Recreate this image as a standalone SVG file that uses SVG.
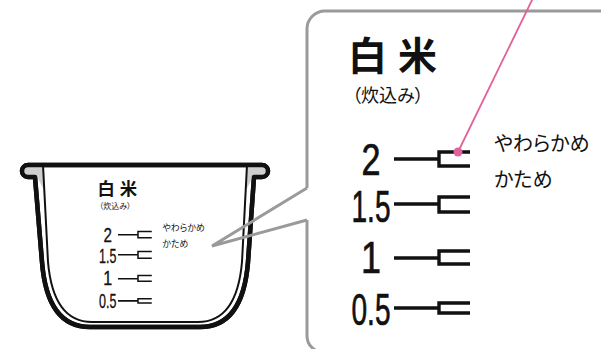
<svg xmlns="http://www.w3.org/2000/svg" width="601" height="349" viewBox="0 0 601 349">
  <style>
    .jp { font-family: "Noto Sans CJK JP", "Noto Sans", sans-serif; fill: #111; }
    .title { font-size: 39px; font-weight: 700; letter-spacing: 11px; }
    .sub { font-size: 18px; font-feature-settings: "palt"; }
    .note { font-size: 20px; font-feature-settings: "palt"; }
    .num { font-family: "Liberation Sans", Arial, sans-serif; font-size: 44px; fill: #111; stroke: #111; stroke-width: 0.7; text-anchor: middle; }
    .tick { fill: none; stroke: #111; stroke-width: 3.4; stroke-linejoin: miter; }
    .panel { fill: none; stroke: #9a9a9a; stroke-width: 3; }
    .pot-out { fill: #fff; stroke: #111; stroke-width: 4.5; stroke-linejoin: round; }
    .pot-line { fill: none; stroke: #111; stroke-width: 4.5; stroke-linejoin: round; }
    .pot-in { fill: none; stroke: #111; stroke-width: 2; }
    .lip { fill: #cfcfcf; }
  </style>

  <rect width="601" height="349" fill="#fff"/>

  <!-- rice pot body: thick outer rim and wall, thin inner wall line -->
  <g id="pot">
    <path class="pot-out" d="M35,177 L28,177 A6,6 0 0 1 28,165 L262,165 A6,6 0 0 1 262,177 L254,177 L248,262 C245,300 232,327 200,327 L90,327 C58,327 45,300 42,262 Z"/>
    <path class="lip" d="M43,167 L28,167 A4,4 0 0 0 28,175 L36,175 L44,190 Z"/>
    <path class="lip" d="M247,167 L262,167 A4,4 0 0 1 262,175 L254,175 L246,190 Z"/>
    <path class="pot-in" d="M43,165 L48,262 C51,296 63,322 92,322 L198,322 C227,322 239,296 242,262 L247,165"/>
    <path class="pot-line" d="M35,177 L28,177 A6,6 0 0 1 28,165 L262,165 A6,6 0 0 1 262,177 L254,177 L248,262 C245,300 232,327 200,327 L90,327 C58,327 45,300 42,262 Z"/>
  </g>

  <!-- water level scale printed inside the pot (same artwork, reduced) -->
  <g id="pot-scale" transform="translate(-57.1,164) scale(0.4444)">
    <text class="jp title" x="348" y="70">白米</text>
    <text class="jp sub" x="352" y="102">（炊込み）</text>
    <text class="jp note" x="494" y="151">やわらかめ</text>
    <text class="jp note" x="494" y="187">かため</text>
    <text class="num" x="371" y="175" textLength="19" lengthAdjust="spacingAndGlyphs">2</text>
    <text class="num" x="371" y="222" textLength="39" lengthAdjust="spacingAndGlyphs">1.5</text>
    <text class="num" x="371" y="273" textLength="20" lengthAdjust="spacingAndGlyphs">1</text>
    <text class="num" x="371" y="325" textLength="39" lengthAdjust="spacingAndGlyphs">0.5</text>
    <path class="tick" d="M394,159 H439 M470,152 H439 V166 H470"/>
    <path class="tick" d="M394,204 H439 M470,197 H439 V212 H470"/>
    <path class="tick" d="M394,258 H439 M470,251 H439 V264 H470"/>
    <path class="tick" d="M394,308 H439 M470,303 H439 V313 H470"/>
  </g>

  <!-- enlarged detail panel, open on the left where the callout joins -->
  <g id="detail-panel">
    <path class="panel" d="M307,188 V29 A18,18 0 0 1 325,11 H605"/>
    <path class="panel" d="M307,220 V336 A16,16 0 0 0 323,352 H605"/>
  </g>

  <g id="detail-scale">
    <text class="jp title" x="348" y="70">白米</text>
    <text class="jp sub" x="352" y="102">（炊込み）</text>
    <text class="jp note" x="494" y="151">やわらかめ</text>
    <text class="jp note" x="494" y="187">かため</text>
    <text class="num" x="371" y="175" textLength="19" lengthAdjust="spacingAndGlyphs">2</text>
    <text class="num" x="371" y="222" textLength="39" lengthAdjust="spacingAndGlyphs">1.5</text>
    <text class="num" x="371" y="273" textLength="20" lengthAdjust="spacingAndGlyphs">1</text>
    <text class="num" x="371" y="325" textLength="39" lengthAdjust="spacingAndGlyphs">0.5</text>
    <path class="tick" d="M394,159 H439 M470,152 H439 V166 H470"/>
    <path class="tick" d="M394,204 H439 M470,197 H439 V212 H470"/>
    <path class="tick" d="M394,258 H439 M470,251 H439 V264 H470"/>
    <path class="tick" d="M394,308 H439 M470,303 H439 V313 H470"/>
  </g>

  <g id="connectors">
    <!-- callout wedge from the pot to the detail panel -->
    <polyline class="panel" stroke-linejoin="miter" points="307,188 212,246 307,220"/>
    <!-- pink leader to the upper mark -->
    <line x1="533" y1="-2" x2="458" y2="152" stroke="#e2609b" stroke-width="1.8"/>
    <circle cx="458" cy="152" r="4.5" fill="#e2609b"/>
  </g>
</svg>
